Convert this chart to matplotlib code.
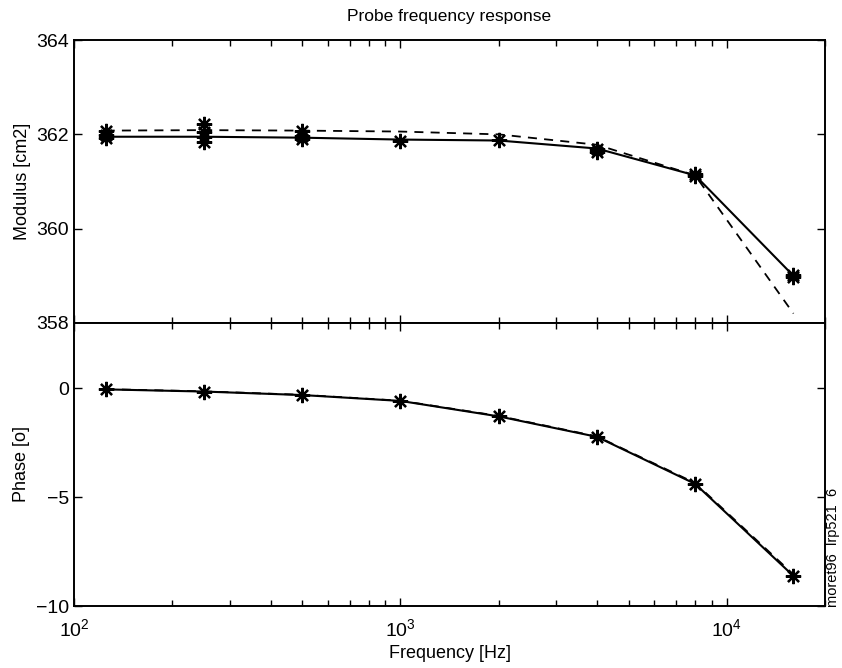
import numpy as np
import matplotlib
matplotlib.use("Agg")
import matplotlib.pyplot as plt
from matplotlib.ticker import LogLocator, NullFormatter

plt.rcParams["font.family"] = ["Liberation Sans", "DejaVu Sans"]
plt.rcParams["mathtext.default"] = "regular"

# measurement frequencies [Hz]
freqs = [125, 250, 500, 1000, 2000, 4000, 8000, 16000]

# modulus: repeated measurements (stars), mean (solid), model (dashed)
mod_meas_freq = [125, 125, 125, 250, 250, 250, 250, 500, 500, 500,
                 1000, 2000, 4000, 4000, 8000, 8000, 16000, 16000]
mod_meas = [362.08, 361.98, 361.93, 362.22, 362.05, 361.95, 361.83,
            362.07, 361.97, 361.91, 361.85, 361.89, 361.68, 361.63,
            361.15, 361.12, 359.02, 358.97]
mod_mean = [361.95, 361.95, 361.93, 361.89, 361.87, 361.70, 361.13, 359.00]
mod_model = [362.08, 362.09, 362.08, 362.06, 362.00, 361.78, 361.13, 358.20]

# phase [deg]
phase_meas = [-0.05, -0.15, -0.31, -0.58, -1.29, -2.23, -4.39, -8.62]
phase_model = [-0.04, -0.14, -0.30, -0.57, -1.27, -2.21, -4.35, -8.55]

star = (8, 2, 0)  # asterisk like matlab '*'

fig = plt.figure(figsize=(8.42, 6.68), dpi=100)
ax1 = fig.add_axes([0.0879, 0.5165, 0.892, 0.4235])
ax2 = fig.add_axes([0.0879, 0.0928, 0.892, 0.4237])

ax1.plot(freqs, mod_model, "k--", lw=1.3, dashes=(5, 4))
ax1.plot(freqs, mod_mean, "k-", lw=1.5)
ax1.plot(mod_meas_freq, mod_meas, ls="none", marker=star, color="k",
         ms=11, mew=1.6)

ax2.plot(freqs, phase_model, "k--", lw=1.3, dashes=(5, 4))
ax2.plot(freqs, phase_meas, "k-", lw=1.5, marker=star, ms=11, mew=1.6)

for ax in (ax1, ax2):
    ax.set_xscale("log")
    ax.set_xlim(100, 20000)
    ax.xaxis.set_major_locator(LogLocator(base=10))
    ax.xaxis.set_minor_locator(LogLocator(base=10, subs=np.arange(2, 10)))
    ax.xaxis.set_minor_formatter(NullFormatter())
    ax.tick_params(which="both", direction="in", top=True, right=True,
                   labelsize=14, width=1.0)
    ax.tick_params(which="major", length=6)
    ax.tick_params(which="minor", length=4)
    for s in ax.spines.values():
        s.set_linewidth(1.4)

ax1.set_ylim(358, 364)
ax1.set_yticks([358, 360, 362, 364])
ax1.tick_params(labelbottom=False)
ax1.set_ylabel("Modulus [cm2]", fontsize=13)
ax1.set_title("Probe frequency response", fontsize=12.5, pad=14)

ax2.set_ylim(-10, 3)
ax2.set_yticks([-10, -5, 0])
ax2.set_ylabel("Phase [o]", fontsize=13)
ax2.tick_params(axis="x", pad=9)
ax2.set_xlabel("Frequency [Hz]", fontsize=13, labelpad=3)

fig.text(0.989, 0.181, "moret96  lrp521  6", rotation=90,
         fontsize=10.5, ha="center", va="center")

fig.savefig("out.png", dpi=100)
